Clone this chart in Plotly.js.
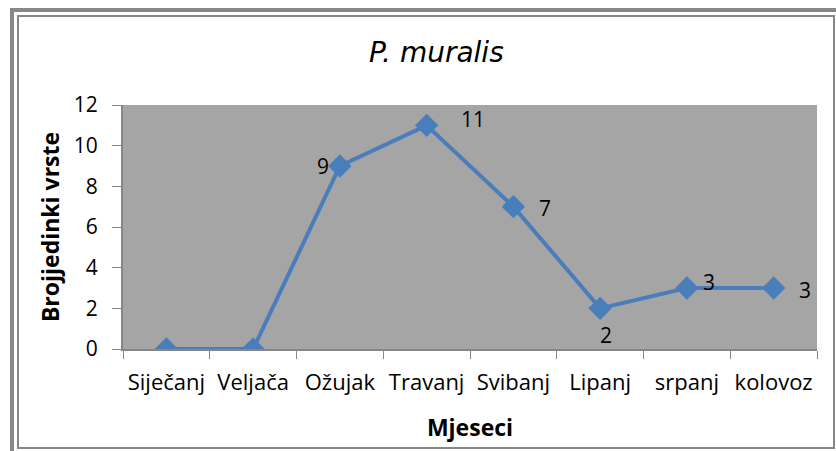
<!DOCTYPE html>
<html>
<head>
<meta charset="utf-8">
<script src="https://cdn.plot.ly/plotly-3.0.1.min.js"></script>
<style>
html,body{margin:0;padding:0;background:#fff;}
#wrap{position:relative;width:836px;height:451px;overflow:hidden;}
#chart{position:absolute;left:0;top:0;width:836px;height:451px;}
#frame1{position:absolute;left:10px;top:8px;width:840px;height:450px;border:4px solid #878787;box-sizing:border-box;pointer-events:none;}
#frame2{position:absolute;left:17px;top:15px;width:818px;height:434px;border:2px solid #878787;box-sizing:border-box;pointer-events:none;}
</style>
</head>
<body>
<div id="wrap">
<div id="chart"></div>
<div id="frame1"></div>
<div id="frame2"></div>
</div>
<script>
const months = ["Siječanj","Veljača","Ožujak","Travanj","Svibanj","Lipanj","srpanj","kolovoz"];
const counts = [0,0,9,11,7,2,3,3];
const yTicks = [0,2,4,6,8,10,12];
// label offsets (px) per point; null = no label
const labelShift = [null,null,[-17,0],[46,6],[32,-1],[6,-27],[22,6],[31,-2]];

const FONT = "'Open Sans', sans-serif";

const annotations = [];
counts.forEach((v,i)=>{
  const s = labelShift[i];
  if(!s) return;
  annotations.push({x:months[i], y:v, xref:'x', yref:'y', text:String(v), showarrow:false,
    xshift:s[0], yshift:s[1], font:{family:FONT,size:21,color:'#000'}});
});

const trace = {
  x: months, y: counts, type:'scatter', mode:'lines+markers',
  line:{color:'#4a7ebb', width:4},
  marker:{symbol:'diamond', size:18, color:'#4a7ebb'},
  hoverinfo:'skip'
};

const layout = {
  width:836, height:451,
  margin:{l:123, r:19, t:105, b:102},
  paper_bgcolor:'rgba(0,0,0,0)',
  plot_bgcolor:'#a5a5a5',
  showlegend:false,
  title:{text:'<i>P. muralis</i>', font:{family:"'DejaVu Sans', sans-serif", size:28, color:'#000'},
    x:0.522, xanchor:'center', y:0.885, yanchor:'middle'},
  xaxis:{type:'category', range:[-0.5,7.5], tickson:'boundaries', ticks:'outside', ticklen:8, tickcolor:'#868686', tickwidth:1,
    showline:true, linecolor:'#868686', linewidth:2, showgrid:false, zeroline:false,
    tickangle:0, ticklabelstandoff:13,
    tickfont:{family:FONT,size:22,color:'#000'},
    title:{text:'<b>Mjeseci</b>', font:{family:FONT,size:23,color:'#000'}, standoff:24}},
  yaxis:{range:[0,12], tickvals:yTicks, ticks:'outside', ticklen:9, tickcolor:'#868686', tickwidth:1,
    showline:true, linecolor:'#868686', linewidth:2, showgrid:false, zeroline:false,
    ticklabelstandoff:10,
    tickfont:{family:FONT,size:21,color:'#000'},
    title:{text:'<b>Brojjedinki vrste</b>', font:{family:FONT,size:23,color:'#000'}, standoff:8}},
  annotations: annotations
};

Plotly.newPlot('chart',[trace],layout,{staticPlot:true});
</script>
</body>
</html>
